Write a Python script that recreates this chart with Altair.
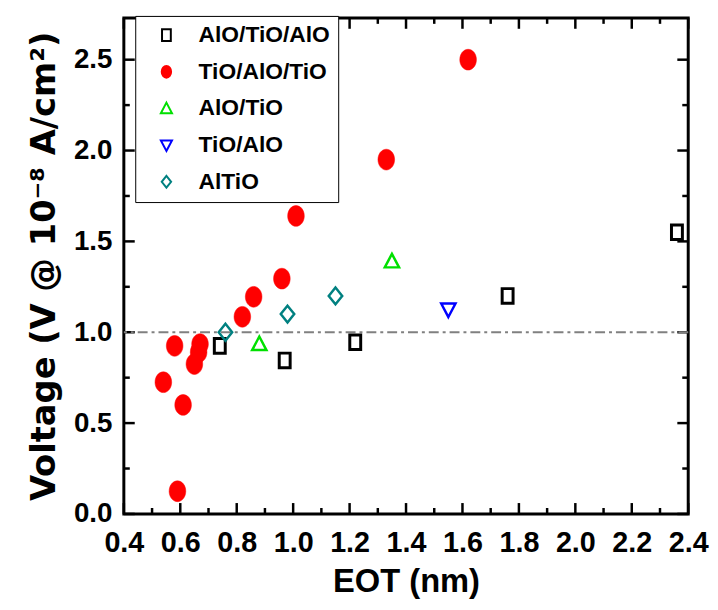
import altair as alt
import pandas as pd

# ---------------- data ----------------
series_names = ["AlO/TiO/AlO", "TiO/AlO/TiO", "AlO/TiO", "TiO/AlO", "AlTiO"]

alo_tio_alo_x = [0.74, 0.97, 1.22, 1.76, 2.36]
alo_tio_alo_y = [0.925, 0.845, 0.945, 1.20, 1.55]

tio_alo_tio_x = [0.54, 0.58, 0.59, 0.61, 0.65, 0.665, 0.67, 0.82, 0.86, 0.96, 1.01, 1.33, 1.62]
tio_alo_tio_y = [0.725, 0.925, 0.125, 0.60, 0.825, 0.89, 0.935, 1.085, 1.195, 1.295, 1.64, 1.95, 2.50]

alo_tio_x = [0.88, 1.35]
alo_tio_y = [0.935, 1.39]

tio_alo_x = [1.55]
tio_alo_y = [1.125]

altio_x = [0.76, 0.98, 1.15]
altio_y = [1.00, 1.10, 1.20]

ref_level = [1.0]

x_major = [0.4, 0.6, 0.8, 1.0, 1.2, 1.4, 1.6, 1.8, 2.0, 2.2, 2.4]
x_minor = [0.5, 0.7, 0.9, 1.1, 1.3, 1.5, 1.7, 1.9, 2.1, 2.3]
y_major = [0.0, 0.5, 1.0, 1.5, 2.0, 2.5]
y_minor = [0.25, 0.75, 1.25, 1.75, 2.25]

# ---------------- styles ----------------
W, H = 570, 501
FONT = "Liberation Sans"

colors = ["#000000", "#ff0000", "#00e000", "#0000ff", "#008080"]
fills = ["transparent", "#ff0000", "transparent", "transparent", "transparent"]
shapes = [
    "M-0.75,-1L0.75,-1L0.75,1L-0.75,1Z",
    "M0,-1A0.8,1,0,1,1,0,1A0.8,1,0,1,1,0,-1Z",
    "M0,-1L0.95,0.8L-0.95,0.8Z",
    "M0,1L0.95,-0.8L-0.95,-0.8Z",
    "M0,-1L0.8,0L0,1L-0.8,0Z",
]
sizes = [216, 441, 230, 230, 289]
stroke_widths = [3, 0.5, 2.5, 2.5, 2.5]

series_data = [
    (alo_tio_alo_x, alo_tio_alo_y),
    (tio_alo_tio_x, tio_alo_tio_y),
    (alo_tio_x, alo_tio_y),
    (tio_alo_x, tio_alo_y),
    (altio_x, altio_y),
]

xs = alt.Scale(domain=[0.4, 2.4], nice=False, zero=False)
ys = alt.Scale(domain=[0, 2.73], nice=False, zero=False)

x_axis = alt.Axis(
    values=x_major, format=".1f", ticks=False, domain=False, grid=False,
    labelFont=FONT, labelFontSize=29, labelFontWeight="bold", labelColor="black",
    labelPadding=15, labelFlush=False,
    title="EOT (nm)", titleFont=FONT, titleFontSize=33, titleFontWeight="bold",
    titleColor="black", titlePadding=8)
y_axis = alt.Axis(
    values=y_major, format=".1f", ticks=False, domain=False, grid=False,
    labelFont=FONT, labelFontSize=28, labelFontWeight="bold", labelColor="black",
    labelPadding=12, labelFlush=False,
    title="Voltage (V @ 10⁻⁸ A/cm²)", titleFont="DejaVu Sans", titleFontSize=34,
    titleFontWeight="bold", titleColor="black", titlePadding=12)

leg = alt.Legend(
    title=None, orient="none", legendX=11.5, legendY=-2,
    strokeColor="black", fillColor="white", padding=8,
    labelFont=FONT, labelFontSize=23, labelFontWeight="bold", labelColor="black",
    symbolSize=140, symbolStrokeWidth=2, symbolOffset=12, labelOffset=21,
    rowPadding=13, labelLimit=400,
)

point_layers = []
for i, name in enumerate(series_names):
    xv, yv = series_data[i]
    d = pd.DataFrame({"series": [name] * len(xv), "eot": xv, "volt": yv})
    point_layers.append(
        alt.Chart(d).mark_point(
            opacity=1, fillOpacity=1, size=sizes[i], strokeWidth=stroke_widths[i]
        ).encode(
            x=alt.X("eot:Q", scale=xs, axis=x_axis),
            y=alt.Y("volt:Q", scale=ys, axis=y_axis),
            shape=alt.Shape("series:N", scale=alt.Scale(domain=series_names, range=shapes), legend=leg),
            stroke=alt.Stroke("series:N", scale=alt.Scale(domain=series_names, range=colors), legend=leg),
            fill=alt.Fill("series:N", scale=alt.Scale(domain=series_names, range=fills), legend=leg),
        )
    )

ref = alt.Chart(pd.DataFrame({"volt": ref_level})).mark_rule(
    color="#808080", strokeWidth=2.2, strokeDash=[10, 4, 3, 4]
).encode(y=alt.Y("volt:Q", scale=ys, axis=y_axis))


def tick_layer(vals, axis, side, length, sw):
    if axis == "x":
        d = pd.DataFrame({"eot": vals})
        enc = dict(x=alt.X("eot:Q", scale=xs, axis=x_axis))
        if side == "bottom":
            enc.update(y=alt.value(H), y2=alt.value(H - length))
        else:
            enc.update(y=alt.value(0), y2=alt.value(length))
    else:
        d = pd.DataFrame({"volt": vals})
        enc = dict(y=alt.Y("volt:Q", scale=ys, axis=y_axis))
        if side == "left":
            enc.update(x=alt.value(0), x2=alt.value(length))
        else:
            enc.update(x=alt.value(W), x2=alt.value(W - length))
    return alt.Chart(d).mark_rule(color="black", strokeWidth=sw).encode(**enc)


ticks = []
for side in ["bottom", "top"]:
    ticks.append(tick_layer(x_major, "x", side, 11, 2.5))
    ticks.append(tick_layer(x_minor, "x", side, 6, 2.5))
for side in ["left", "right"]:
    ticks.append(tick_layer(y_major, "y", side, 11, 2.5))
    ticks.append(tick_layer(y_minor, "y", side, 6, 2.5))

chart = alt.layer(*ticks, ref, *point_layers).properties(
    width=W, height=H,
    background="white",
    padding={"left": 117, "top": 7, "right": 22, "bottom": 92},
    autosize=alt.AutoSizeParams(type="none"),
).configure_view(stroke="black", strokeWidth=3)

chart.save("out.html", embed_options={"renderer": "svg", "actions": False})
